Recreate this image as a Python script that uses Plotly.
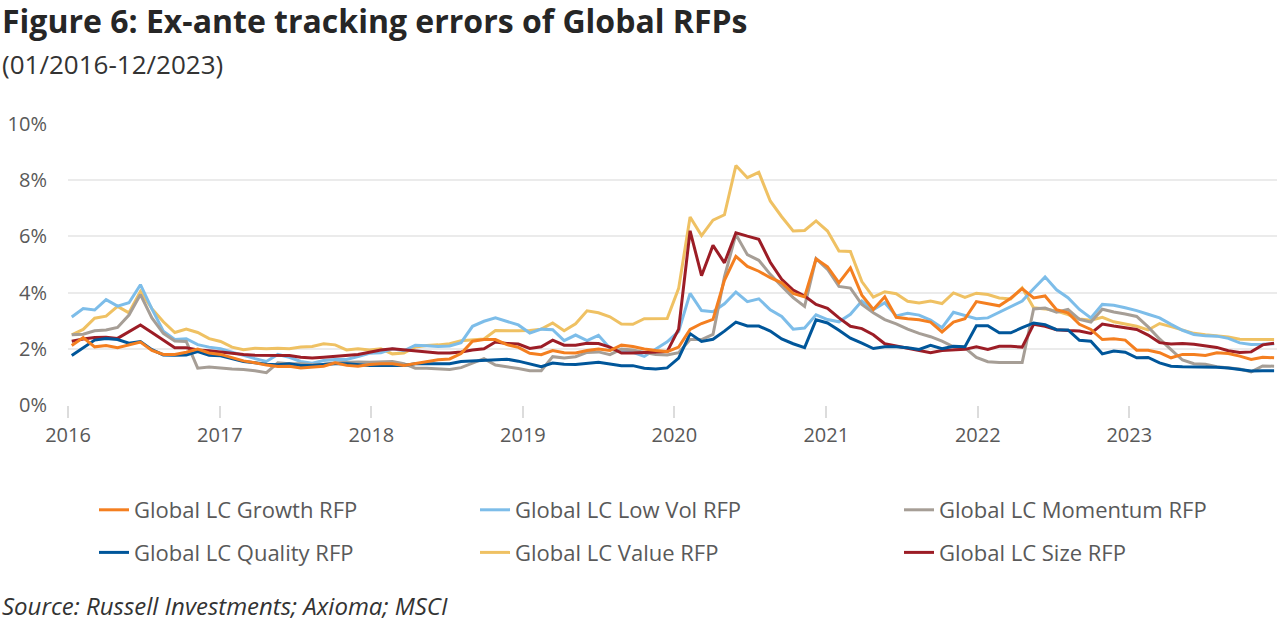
import plotly.graph_objects as go
import pandas as pd

# 4-weekly observation dates, 01/2016 - 12/2023
dates = pd.date_range("2016-01-10", "2023-12-16", periods=106)

growth = [
    2.12, 2.4, 2.07, 2.12, 2.04, 2.15, 2.24, 1.94, 1.8, 1.8,
    1.88, 1.99, 1.85, 1.8, 1.68, 1.57, 1.5, 1.42, 1.37, 1.38,
    1.32, 1.35, 1.38, 1.5, 1.41, 1.38, 1.44, 1.47, 1.47, 1.41,
    1.47, 1.53, 1.61, 1.64, 1.83, 2.27, 2.33, 2.33, 2.15, 2.05,
    1.84, 1.79, 1.94, 1.86, 1.85, 1.94, 1.99, 1.94, 2.13, 2.08,
    1.99, 1.94, 1.9, 2.06, 2.69, 2.9, 3.05, 4.44, 5.29, 4.93,
    4.76, 4.53, 4.35, 3.97, 3.85, 5.2, 4.92, 4.35, 4.88, 3.91,
    3.4, 3.85, 3.12, 3.07, 3.03, 2.95, 2.6, 2.95, 3.07, 3.68,
    3.6, 3.53, 3.8, 4.14, 3.81, 3.88, 3.39, 3.28, 2.87, 2.69,
    2.33, 2.36, 2.31, 1.95, 1.95, 1.86, 1.68, 1.8, 1.8, 1.76,
    1.86, 1.83, 1.74, 1.62, 1.7, 1.68]

low_vol = [
    3.13, 3.43, 3.38, 3.75, 3.52, 3.64, 4.28, 3.42, 2.63, 2.33,
    2.36, 2.15, 2.06, 2.0, 1.88, 1.76, 1.65, 1.55, 1.8, 1.7,
    1.55, 1.49, 1.58, 1.62, 1.62, 1.72, 1.84, 1.86, 2.0, 1.93,
    2.13, 2.11, 2.08, 2.1, 2.22, 2.8, 2.98, 3.1, 2.98, 2.85,
    2.56, 2.7, 2.68, 2.29, 2.49, 2.29, 2.48, 2.02, 1.93, 1.87,
    1.73, 2.0, 2.25, 2.62, 3.97, 3.36, 3.32, 3.6, 4.02, 3.68,
    3.78, 3.39, 3.15, 2.7, 2.74, 3.21, 3.04, 2.96, 3.23, 3.7,
    3.39, 3.64, 3.17, 3.26, 3.2, 3.02, 2.75, 3.3, 3.19, 3.07,
    3.1, 3.3, 3.49, 3.7, 4.14, 4.56, 4.1, 3.82, 3.4, 3.1,
    3.58, 3.55, 3.46, 3.36, 3.23, 3.1, 2.87, 2.66, 2.51, 2.46,
    2.45, 2.37, 2.21, 2.15, 2.16, 2.18]

momentum = [
    2.5, 2.52, 2.64, 2.67, 2.76, 3.2, 3.93, 3.1, 2.55, 2.28,
    2.26, 1.31, 1.35, 1.31, 1.28, 1.26, 1.22, 1.15, 1.5, 1.47,
    1.47, 1.43, 1.45, 1.5, 1.52, 1.53, 1.52, 1.53, 1.55, 1.47,
    1.31, 1.31, 1.29, 1.26, 1.33, 1.49, 1.65, 1.42, 1.37, 1.3,
    1.22, 1.22, 1.72, 1.67, 1.72, 1.87, 1.89, 1.79, 1.99, 1.96,
    1.87, 1.8, 1.78, 1.86, 2.33, 2.33, 2.51, 4.56, 6.07, 5.35,
    5.15, 4.65, 4.23, 3.82, 3.51, 5.21, 4.83, 4.22, 4.16, 3.58,
    3.28, 3.04, 2.89, 2.7, 2.55, 2.43, 2.27, 2.07, 2.03, 1.69,
    1.54, 1.51, 1.51, 1.51, 3.42, 3.45, 3.3, 3.4, 3.05, 2.95,
    3.41, 3.31, 3.24, 3.15, 2.78, 2.35, 1.97, 1.6, 1.47, 1.45,
    1.36, 1.32, 1.28, 1.18, 1.39, 1.38]

quality = [
    1.76, 2.03, 2.31, 2.37, 2.33, 2.2, 2.26, 1.97, 1.78, 1.77,
    1.78, 1.9, 1.77, 1.75, 1.64, 1.55, 1.5, 1.45, 1.43, 1.47,
    1.41, 1.41, 1.44, 1.47, 1.47, 1.44, 1.41, 1.41, 1.41, 1.41,
    1.47, 1.47, 1.47, 1.47, 1.55, 1.57, 1.6, 1.63, 1.63, 1.56,
    1.47, 1.36, 1.49, 1.45, 1.44, 1.49, 1.52, 1.46, 1.4, 1.4,
    1.31, 1.28, 1.32, 1.67, 2.54, 2.26, 2.34, 2.63, 2.95, 2.81,
    2.81, 2.63, 2.35, 2.18, 2.04, 3.03, 2.92, 2.66, 2.38, 2.2,
    2.01, 2.07, 2.07, 2.04, 1.98, 2.12, 2.0, 2.09, 2.07, 2.82,
    2.82, 2.57, 2.57, 2.75, 2.92, 2.86, 2.68, 2.67, 2.3, 2.27,
    1.82, 1.92, 1.88, 1.68, 1.69, 1.5, 1.38, 1.36, 1.36, 1.35,
    1.34, 1.32, 1.26, 1.21, 1.22, 1.22]

value = [
    2.5, 2.69, 3.09, 3.16, 3.51, 3.28, 4.04, 3.43, 2.96, 2.58,
    2.7, 2.58, 2.36, 2.26, 2.06, 1.97, 2.02, 2.0, 2.02, 2.0,
    2.06, 2.08, 2.18, 2.14, 1.96, 2.0, 1.96, 2.0, 1.82, 1.85,
    2.06, 2.12, 2.14, 2.18, 2.29, 2.32, 2.35, 2.65, 2.64, 2.64,
    2.65, 2.7, 2.92, 2.64, 2.89, 3.35, 3.28, 3.14, 2.88, 2.87,
    3.07, 3.07, 3.08, 4.15, 6.69, 6.03, 6.58, 6.77, 8.52, 8.09,
    8.28, 7.26, 6.7, 6.19, 6.21, 6.55, 6.19, 5.48, 5.46, 4.39,
    3.84, 4.03, 3.96, 3.69, 3.63, 3.7, 3.61, 3.99, 3.83, 3.98,
    3.93, 3.81, 3.77, 4.17, 3.46, 3.42, 3.34, 3.22, 3.06, 3.02,
    3.12, 2.96, 2.88, 2.8, 2.67, 2.9, 2.79, 2.67, 2.55, 2.5,
    2.47, 2.42, 2.34, 2.33, 2.33, 2.33]

size = [
    2.27, 2.35, 2.4, 2.41, 2.37, 2.6, 2.85, 2.58, 2.3, 2.04,
    2.04, 1.96, 1.93, 1.88, 1.85, 1.8, 1.77, 1.76, 1.77, 1.76,
    1.7, 1.67, 1.7, 1.73, 1.76, 1.8, 1.88, 1.96, 2.0, 1.96,
    1.94, 1.88, 1.85, 1.85, 1.89, 1.96, 2.0, 2.24, 2.19, 2.17,
    2.01, 2.07, 2.31, 2.13, 2.13, 2.2, 2.19, 2.06, 1.85, 1.85,
    1.87, 1.9, 1.9, 2.7, 6.2, 4.6, 5.68, 5.06, 6.13, 6.01,
    5.9, 5.08, 4.47, 4.09, 3.88, 3.58, 3.44, 3.1, 2.8, 2.72,
    2.5, 2.18, 2.1, 2.03, 1.95, 1.86, 1.94, 1.95, 1.98, 2.07,
    1.98, 2.09, 2.09, 2.06, 2.87, 2.8, 2.68, 2.65, 2.63, 2.55,
    2.88, 2.81, 2.76, 2.69, 2.49, 2.22, 2.17, 2.19, 2.16, 2.11,
    2.05, 1.93, 1.87, 1.89, 2.14, 2.2]

y_ticks = [0, 2, 4, 6, 8, 10]
y_tick_labels = ["0%", "2%", "4%", "6%", "8%", "10%"]

# (name, values, colour, legend, rank) in drawing order (bottom -> top)
series = [
    ("Global LC Value RFP", value, "#EFC163", "legend2", 2),
    ("Global LC Low Vol RFP", low_vol, "#7DBDE9", "legend2", 1),
    ("Global LC Momentum RFP", momentum, "#A69E96", "legend3", 1),
    ("Global LC Size RFP", size, "#9C1D26", "legend3", 2),
    ("Global LC Quality RFP", quality, "#00569A", "legend", 2),
    ("Global LC Growth RFP", growth, "#F47F20", "legend", 1),
]

FONT = "'Open Sans', 'Noto Sans', sans-serif"
W, H = 1280, 621
L, R, T, B = 68, 3, 124, 216
PW = W - L - R
PH = H - T - B


def px_x(px):
    return (px - L) / PW


def px_y(py):
    return (H - B - py) / PH


fig = go.Figure()
for name, vals, col, leg, rank in series:
    fig.add_trace(go.Scatter(
        x=dates, y=vals, name=name, mode="lines",
        line=dict(color=col, width=3),
        legend=leg, legendrank=rank, legendgroup=name,
    ))

legend_common = dict(
    orientation="v", xanchor="left", yanchor="top",
    font=dict(family=FONT, size=22, color="#595959"),
    bgcolor="rgba(0,0,0,0)", tracegroupgap=11, traceorder="grouped",
)

fig.update_layout(
    width=W, height=H,
    margin=dict(l=L, r=R, t=T, b=B),
    paper_bgcolor="white", plot_bgcolor="white",
    font=dict(family=FONT, color="#595959"),
    showlegend=True,
    legend=dict(x=px_x(94), y=px_y(489), **legend_common),
    legend2=dict(x=px_x(475), y=px_y(489), **legend_common),
    legend3=dict(x=px_x(899), y=px_y(489), **legend_common),
    xaxis=dict(
        type="date",
        range=["2016-01-01", "2023-12-23"],
        tickformat="%Y", dtick="M12", tick0="2016-01-01",
        showgrid=False, zeroline=False, showline=False,
        ticks="outside", ticklen=12, tickwidth=2, tickcolor="#dcdcdc",
        tickfont=dict(family=FONT, size=20, color="#595959"),
    ),
    yaxis=dict(
        range=[0, 10], tickvals=y_ticks, ticktext=y_tick_labels,
        showgrid=True, gridcolor="#ebebeb", gridwidth=2,
        zeroline=False, showline=False, ticks="",
        tickfont=dict(family=FONT, size=20, color="#595959"),
        ticklabelstandoff=20,
    ),
    annotations=[
        dict(text="<b>Figure 6: Ex-ante tracking errors of Global RFPs</b>",
             xref="paper", yref="paper", x=px_x(0), y=px_y(21),
             xanchor="left", yanchor="middle", showarrow=False,
             font=dict(family=FONT, size=32, color="#262626")),
        dict(text="(01/2016-12/2023)",
             xref="paper", yref="paper", x=px_x(0), y=px_y(64),
             xanchor="left", yanchor="middle", showarrow=False,
             font=dict(family=FONT, size=26, color="#333333")),
        dict(text="<i>Source: Russell Investments; Axioma; MSCI</i>",
             xref="paper", yref="paper", x=px_x(0), y=px_y(605),
             xanchor="left", yanchor="middle", showarrow=False,
             font=dict(family=FONT, size=24, color="#333333")),
    ],
)

fig.write_html(
    "out.html",
    config={"displayModeBar": False},
    post_script="document.body.style.margin='0';document.body.style.overflow='hidden';",
)
